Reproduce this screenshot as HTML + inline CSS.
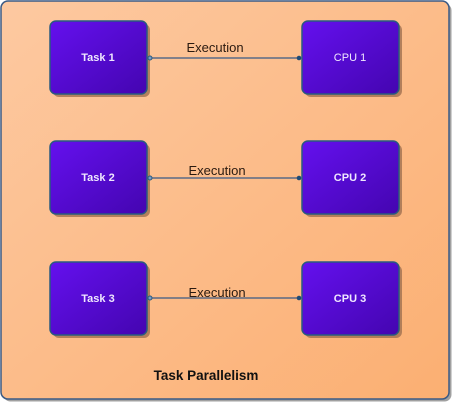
<!DOCTYPE html>
<html><head><meta charset="utf-8"><style>
html,body{margin:0;padding:0;width:453px;height:403px;overflow:hidden;background:#fff}
svg text{font-family:"Liberation Sans",sans-serif}
</style></head><body>
<svg width="453" height="403" viewBox="0 0 453 403" xmlns="http://www.w3.org/2000/svg">
<defs>
<linearGradient id="bg" x1="0" y1="0" x2="1" y2="1">
<stop offset="0" stop-color="#fdc9a1"/><stop offset="1" stop-color="#fbaf72"/>
</linearGradient>
<linearGradient id="bx" x1="0" y1="0" x2="1" y2="1">
<stop offset="0" stop-color="#6410ee"/><stop offset="1" stop-color="#4405b0"/>
</linearGradient>
</defs>
<rect x="3.5" y="3.5" width="448" height="398" rx="7" fill="#a0a0a0"/>
<rect x="1" y="1" width="448" height="398" rx="7" fill="url(#bg)" stroke="#3a5a85" stroke-width="1.5"/>
<g>
<rect x="53" y="24" width="97" height="73" rx="6" fill="#a07050" opacity="0.8"/>
<rect x="50" y="21" width="97" height="73" rx="6" fill="url(#bx)" stroke="#2a5a80" stroke-width="1.5"/>
<rect x="305" y="24" width="97" height="73" rx="6" fill="#a07050" opacity="0.8"/>
<rect x="302" y="21" width="97" height="73" rx="6" fill="url(#bx)" stroke="#2a5a80" stroke-width="1.5"/>
<rect x="53" y="144" width="97" height="73" rx="6" fill="#a07050" opacity="0.8"/>
<rect x="50" y="141" width="97" height="73" rx="6" fill="url(#bx)" stroke="#2a5a80" stroke-width="1.5"/>
<rect x="305" y="144" width="97" height="73" rx="6" fill="#a07050" opacity="0.8"/>
<rect x="302" y="141" width="97" height="73" rx="6" fill="url(#bx)" stroke="#2a5a80" stroke-width="1.5"/>
<rect x="53" y="265" width="97" height="73" rx="6" fill="#a07050" opacity="0.8"/>
<rect x="50" y="262" width="97" height="73" rx="6" fill="url(#bx)" stroke="#2a5a80" stroke-width="1.5"/>
<rect x="305" y="265" width="97" height="73" rx="6" fill="#a07050" opacity="0.8"/>
<rect x="302" y="262" width="97" height="73" rx="6" fill="url(#bx)" stroke="#2a5a80" stroke-width="1.5"/>
</g>
<g fill="#f0e8ff" font-size="11" text-anchor="middle">
<text x="98" y="61" font-weight="bold">Task 1</text>
<text x="350" y="61">CPU 1</text>
<text x="98" y="181" font-weight="bold">Task 2</text>
<text x="350" y="181" font-weight="bold">CPU 2</text>
<text x="98" y="302" font-weight="bold">Task 3</text>
<text x="350" y="302" font-weight="bold">CPU 3</text>
</g>
<g stroke="#3a5a85" stroke-width="1.2">
<line x1="150" y1="58" x2="300" y2="58"/>
<line x1="150" y1="178" x2="300" y2="178"/>
<line x1="150" y1="298" x2="300" y2="298"/>
</g>
<g fill="#7a9ac0" stroke="#2a5a80" stroke-width="1">
<circle cx="150" cy="58" r="2"/><circle cx="150" cy="178" r="2"/><circle cx="150" cy="298" r="2"/>
</g>
<g fill="#1f4a75">
<circle cx="299" cy="58" r="2.3"/><circle cx="299" cy="178" r="2.3"/><circle cx="299" cy="298" r="2.3"/>
</g>
<g fill="#2a1a10" font-size="13" text-anchor="middle">
<text x="215" y="52">Execution</text>
<text x="217" y="175">Execution</text>
<text x="217" y="297">Execution</text>
</g>
<text x="206" y="380" font-size="13.5" font-weight="bold" text-anchor="middle" fill="#111">Task Parallelism</text>
</svg>
</body></html>
